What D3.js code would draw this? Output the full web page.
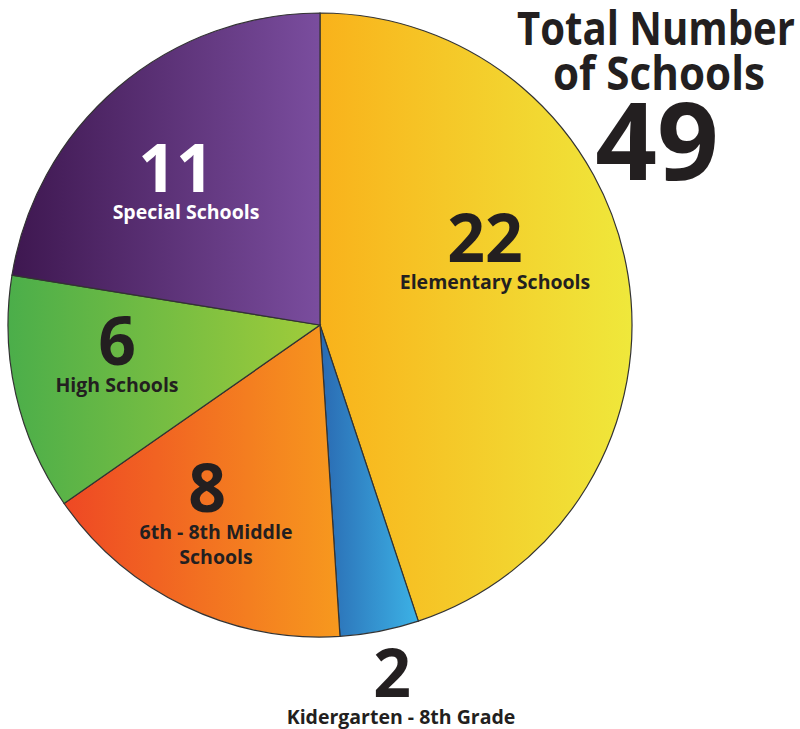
<!DOCTYPE html>
<html>
<head>
<meta charset="utf-8">
<script src="https://cdn.jsdelivr.net/npm/d3@7"></script>
<style>
  body { margin: 0; background: #fff; }
  text { font-family: "Open Sans", "Noto Sans", sans-serif; font-weight: bold; }
</style>
</head>
<body>
<div id="chart"></div>
<script>

// school counts, clockwise from 12 o'clock
var categories = ["Elementary Schools", "Kidergarten - 8th Grade", "6th - 8th Middle Schools", "High Schools", "Special Schools"];
var counts = [22, 2, 8, 6, 11];
var colorsFrom = ["#F9B21B", "#2A6AB2", "#EE4824", "#4BAE4A", "#3E1750"];
var colorsTo = ["#EFE83B", "#3CB2E6", "#F7991E", "#A0CC3A", "#7A4D9E"];

function init(){

	var w = 800;
	var h = 729;
	var cx = 320, cy = 325, r = 312;

	var svg = d3.select("#chart")
				.append("svg")
				.attr("width", w)
				.attr("height", h);

	var defs = svg.append("defs");
	categories.forEach(function(c, i){
		var g = defs.append("linearGradient")
			.attr("id", "grad" + i)
			.attr("x1", "0%").attr("x2", "100%")
			.attr("y1", "0%").attr("y2", "0%");
		g.append("stop").attr("offset", "0%").attr("stop-color", colorsFrom[i]);
		g.append("stop").attr("offset", "100%").attr("stop-color", colorsTo[i]);
	});

	var pie = d3.pie().sort(null).value(function(d){ return d; });
	var arc = d3.arc().innerRadius(0).outerRadius(r);

	var g = svg.append("g")
		.attr("transform", "translate(" + cx + "," + cy + ")");

	g.selectAll("path")
		.data(pie(counts))
		.enter()
		.append("path")
		.attr("d", arc)
		.attr("fill", function(d, i){ return "url(#grad" + i + ")"; })
		.attr("stroke", "#333")
		.attr("stroke-width", 1.2);

	// labels: number + name lines (positions picked by eye from the original)
	var labels = [
		{x: 495, y: 262, lines: ["Elementary Schools"], col: "#231F20", nx: 485},
		{x: 401, y: 697, lines: ["Kidergarten - 8th Grade"], col: "#231F20", nx: 392},
		{x: 216, y: 512, lines: ["6th - 8th Middle", "Schools"], col: "#231F20", nx: 207},
		{x: 117, y: 365, lines: ["High Schools"], col: "#231F20"},
		{x: 186, y: 192, lines: ["Special Schools"], col: "#fff", nx: 176}
	];

	labels.forEach(function(l, i){
		svg.append("text")
			.attr("x", l.nx || l.x)
			.attr("y", l.y)
			.attr("text-anchor", "middle")
			.attr("font-size", 66)
			.attr("fill", l.col)
			.text(counts[i]);
		l.lines.forEach(function(t, j){
			svg.append("text")
				.attr("x", l.x)
				.attr("y", l.y + 27 + j * 25)
				.attr("text-anchor", "middle")
				.attr("font-size", 19.5)
				.attr("fill", l.col)
				.text(t);
		});
	});

	var total = d3.sum(counts);
	var title = svg.append("g").attr("fill", "#231F20");
	title.append("text").attr("x", 656).attr("y", 45).attr("text-anchor", "middle")
		.attr("font-size", 46).attr("textLength", 278).attr("lengthAdjust", "spacingAndGlyphs")
		.text("Total Number");
	title.append("text").attr("x", 659).attr("y", 90).attr("text-anchor", "middle")
		.attr("font-size", 46).attr("textLength", 212).attr("lengthAdjust", "spacingAndGlyphs")
		.text("of Schools");
	title.append("text").attr("x", 657).attr("y", 180).attr("text-anchor", "middle")
		.attr("font-size", 108).text(total);
}

window.onload = init;
</script>
</body>
</html>
